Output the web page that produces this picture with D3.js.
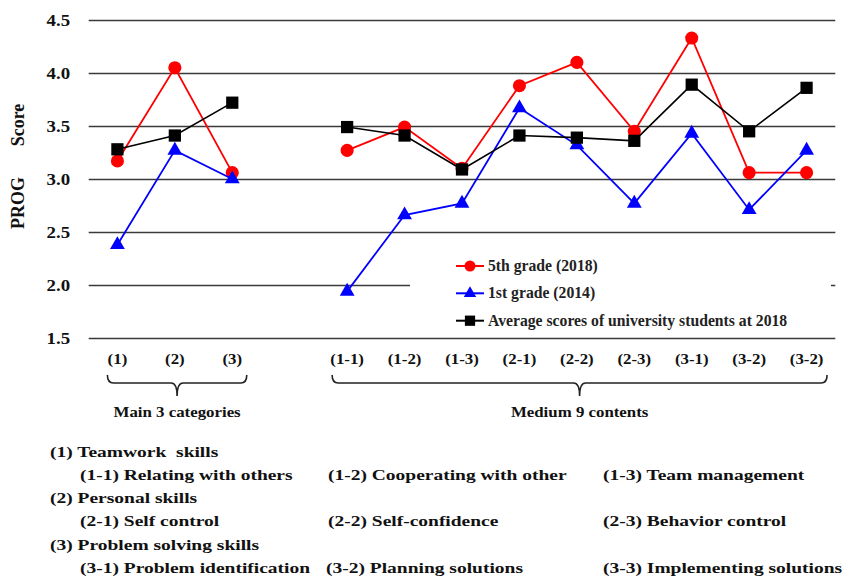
<!DOCTYPE html>
<html>
<head>
<meta charset="utf-8">
<script src="https://cdn.jsdelivr.net/npm/d3@7"></script>
<style>
  html, body { margin: 0; padding: 0; background: #fff; }
  svg { display: block; font-family: "Liberation Serif", "Times New Roman", serif; font-weight: bold; }
</style>
</head>
<body>
<svg id="chart" width="845" height="580"></svg>
<script>
// ---------- data ----------
const mainCategories = ["(1)", "(2)", "(3)"];
const mediumCategories = ["(1-1)", "(1-2)", "(1-3)", "(2-1)", "(2-2)", "(2-3)", "(3-1)", "(3-2)", "(3-2)"];
const yTicks = [1.5, 2.0, 2.5, 3.0, 3.5, 4.0, 4.5];

const grade5Main = [3.17, 4.05, 3.06];
const grade5Medium = [3.27, 3.49, 3.10, 3.88, 4.10, 3.45, 4.33, 3.06, 3.06];
const grade1Main = [2.38, 3.27, 3.00];
const grade1Medium = [1.94, 2.66, 2.77, 3.67, 3.32, 2.77, 3.43, 2.71, 3.27];
const avgMain = [3.28, 3.41, 3.72];
const avgMedium = [3.49, 3.41, 3.09, 3.41, 3.39, 3.36, 3.89, 3.45, 3.86];

const seriesNames = ["5th grade (2018)", "1st grade (2014)", "Average scores of university students at 2018"];
const groupTitles = ["Main 3 categories", "Medium 9 contents"];
const yTitle = ["PROG", "Score"];

const notes = [
  ["(1) Teamwork  skills"],
  ["(1-1) Relating with others", "(1-2) Cooperating with other", "(1-3) Team management"],
  ["(2) Personal skills"],
  ["(2-1) Self control", "(2-2) Self-confidence", "(2-3) Behavior control"],
  ["(3) Problem solving skills"],
  ["(3-1) Problem identification", "(3-2) Planning solutions", "(3-3) Implementing solutions"]
];

// ---------- layout ----------
const svg = d3.select("#chart");
const pLeft = 88.7, pRight = 835.3, pTop = 20, pBottom = 338;
const gap = 1; // one empty slot between the two groups
const nSlots = mainCategories.length + gap + mediumCategories.length;
const x = d3.scaleBand().domain(d3.range(nSlots)).range([pLeft, pRight]);
const y = d3.scaleLinear().domain([1.5, 4.5]).range([pBottom, pTop]);
const mainIdx = mainCategories.map((_, i) => i);
const medIdx = mediumCategories.map((_, i) => i + mainCategories.length + gap);
const allLabels = {};
mainIdx.forEach((s, i) => allLabels[s] = mainCategories[i]);
medIdx.forEach((s, i) => allLabels[s] = mediumCategories[i]);
const cx = s => x(s) + x.bandwidth() / 2;

// helper: horizontally widened text (reference glyphs are stretched)
function wideText(parent, tx, ty, str, size, sx, anchor) {
  return parent.append("text")
    .attr("transform", `translate(${tx},${ty}) scale(${sx},1)`)
    .attr("text-anchor", anchor || "start")
    .attr("font-size", size).attr("fill", "#111")
    .style("white-space", "pre").text(str);
}

// gridlines + y ticks
const yAxis = d3.axisLeft(y).tickValues(yTicks).tickFormat(d3.format(".1f"))
  .tickSize(-(pRight - pLeft)).tickPadding(18.5);
const gy = svg.append("g").attr("transform", `translate(${pLeft},0)`).call(yAxis);
gy.select(".domain").remove();
gy.selectAll(".tick line").attr("stroke", "#3a3a3a").attr("stroke-width", 1.4);
gy.selectAll(".tick text").attr("font-size", 16).attr("font-family", "Liberation Serif, serif")
  .attr("font-weight", "bold").attr("fill", "#111").attr("x", 0).attr("dy", "0.36em")
  .attr("transform", "translate(-18.5,0) scale(1.18,1)");

// y title
svg.append("text").attr("transform", "translate(24,203) rotate(-90)")
  .attr("text-anchor", "middle").attr("font-size", 18).attr("fill", "#111").text(yTitle[0]);
svg.append("text").attr("transform", "translate(24,125) rotate(-90)")
  .attr("text-anchor", "middle").attr("font-size", 18).attr("fill", "#111").text(yTitle[1]);

// legend box (white, hides gridline)
svg.append("rect").attr("x", 410).attr("y", 251).attr("width", 421).attr("height", 82).attr("fill", "#fff");

// x axis labels
const xAxis = d3.axisBottom(x).tickValues(mainIdx.concat(medIdx))
  .tickFormat(d => allLabels[d]).tickSize(0).tickPadding(0);
const gx = svg.append("g").attr("transform", `translate(0,${pBottom})`).call(xAxis);
gx.select(".domain").remove();
gx.selectAll(".tick text").attr("font-size", 15.6).attr("font-family", "Liberation Serif, serif")
  .attr("font-weight", "bold").attr("fill", "#111").attr("y", 0).attr("dy", 0)
  .attr("transform", "translate(0,25.5) scale(1.08,1)");

// braces
function brace(x0, x1, yTop, yMid, yTip) {
  const xm = (x0 + x1) / 2, r = 6;
  return `M${x0},${yTop} Q${x0},${yMid} ${x0 + r},${yMid} L${xm - r},${yMid} Q${xm},${yMid} ${xm},${yTip}` +
         ` Q${xm},${yMid} ${xm + r},${yMid} L${x1 - r},${yMid} Q${x1},${yMid} ${x1},${yTop}`;
}
const groups = [
  { a: cx(mainIdx[0]) - 10, b: cx(mainIdx[mainIdx.length - 1]) + 14.5, title: groupTitles[0] },
  { a: cx(medIdx[0]) - 15, b: cx(medIdx[medIdx.length - 1]) + 20.5, title: groupTitles[1] }
];
groups.forEach(g => {
  svg.append("path").attr("d", brace(g.a, g.b, 375, 383, 396))
    .attr("fill", "none").attr("stroke", "#222").attr("stroke-width", 1.6);
  wideText(svg, (g.a + g.b) / 2, 416.5, g.title, 15.6, 1.08, "middle");
});

// series
const series = [
  { main: grade5Main, med: grade5Medium, color: "#ff0000", shape: d3.symbolCircle, size: 135, sw: 1.8 },
  { main: grade1Main, med: grade1Medium, color: "#0000ff", shape: d3.symbolTriangle, size: 95, sw: 1.8 },
  { main: avgMain, med: avgMedium, color: "#000000", shape: d3.symbolSquare, size: 150, sw: 1.6 }
];
const line = d3.line().x(d => cx(d.s)).y(d => y(d.v));
series.forEach(sr => {
  const parts = [
    sr.main.map((v, i) => ({ s: mainIdx[i], v })),
    sr.med.map((v, i) => ({ s: medIdx[i], v }))
  ];
  parts.forEach(p => {
    svg.append("path").attr("d", line(p)).attr("fill", "none")
      .attr("stroke", sr.color).attr("stroke-width", sr.sw);
  });
  const pts = parts[0].concat(parts[1]);
  svg.append("g").selectAll("path").data(pts).join("path")
    .attr("transform", d => `translate(${cx(d.s)},${y(d.v)})`)
    .attr("d", d3.symbol().type(sr.shape).size(sr.size)).attr("fill", sr.color);
});

// legend
const legRows = [266, 293.3, 320.7];
series.forEach((sr, i) => {
  const g = svg.append("g").attr("transform", `translate(0,${legRows[i]})`);
  g.append("line").attr("x1", 456).attr("x2", 484).attr("stroke", sr.color).attr("stroke-width", 2);
  g.append("path").attr("transform", "translate(470,0)")
    .attr("d", d3.symbol().type(sr.shape).size(sr.size * 0.7)).attr("fill", sr.color);
  g.append("text").attr("x", 488).attr("y", 5).attr("font-size", 15.7).attr("fill", "#222")
    .text(seriesNames[i]);
});

// notes at bottom
const colX = [[50], [80, 328, 603], [50], [80, 328, 603], [50], [80, 326, 603]];
notes.forEach((row, r) => {
  row.forEach((t, c) => {
    wideText(svg, colX[r][c], 456.5 + r * 23.3, t, 15, 1.3, "start");
  });
});
</script>
</body>
</html>
